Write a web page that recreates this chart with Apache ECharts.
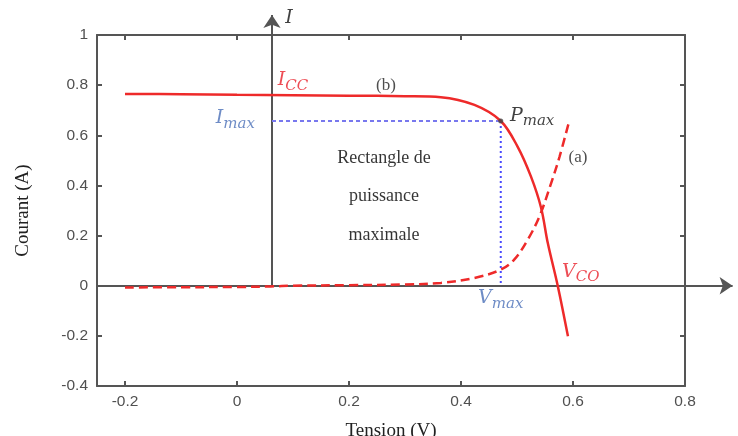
<!DOCTYPE html>
<html><head><meta charset="utf-8">
<script src="https://cdn.jsdelivr.net/npm/echarts@6/dist/echarts.min.js"></script>
<style>html,body{margin:0;padding:0;background:#fff}#c{width:738px;height:436px}</style>
</head><body><div id="c"></div>
<script>
// ---- data ----
const vB = [-0.2, -0.1, 0, 0.1, 0.2, 0.3, 0.364, 0.424, 0.471, 0.501, 0.525, 0.543, 0.555, 0.573, 0.591];
const iB = [0.765, 0.764, 0.762, 0.76, 0.758, 0.756, 0.752, 0.721, 0.657, 0.555, 0.435, 0.311, 0.17, -0.003, -0.202];
const vA = [-0.2, -0.1, 0, 0.06, 0.1, 0.2, 0.3, 0.364, 0.424, 0.471, 0.495, 0.519, 0.54, 0.561, 0.576, 0.593];
const iA = [-0.007, -0.006, -0.005, -0.003, 0.0, 0.002, 0.005, 0.011, 0.031, 0.064, 0.104, 0.183, 0.276, 0.409, 0.515, 0.655];
const rectV = [0.0625, 0.471, 0.471];
const rectI = [0.657, 0.657, 0];
const pmaxV = 0.471, pmaxI = 0.657;
const iAxisV = [0.0625, 0.0625], iAxisI = [0, 1.08];
const vAxisV = [-0.25, 0.885], vAxisI = [0, 0];
const xTicks = [-0.2, 0, 0.2, 0.4, 0.6, 0.8];
const xName = 'Tension (V)', yName = 'Courant (A)';

const pairs = (xs, ys) => xs.map((x, k) => [x, ys[k]]);

const serif = 'Liberation Serif';
const math = 'DejaVu Serif';
const sub = (color, size, subSize) => ({
  i: {fontFamily: math, fontStyle: 'italic', fontSize: size, color: color, lineHeight: 26, verticalAlign: 'middle'},
  s: {fontFamily: math, fontStyle: 'italic', fontSize: subSize, color: color, lineHeight: 14, verticalAlign: 'bottom'}
});
const annotations = [
  {value: [0.093, 1.068], text: '{i|I}', rich: sub('#111', 19, 14)},
  {value: [0.1, 0.82], text: '{i|I}{s|CC}', rich: sub('#e8202a', 19, 15)},
  {value: [0.266, 0.797], text: '(b)', color: '#222', size: 17},
  {value: [-0.003, 0.668], text: '{i|I}{s|max}', rich: sub('#4a6fb8', 19, 15)},
  {value: [0.527, 0.677], text: '{i|P}{s|max}', rich: sub('#111', 19, 15)},
  {value: [0.609, 0.51], text: '(a)', color: '#222', size: 17},
  {value: [0.2625, 0.51], text: 'Rectangle de', color: '#000', size: 18},
  {value: [0.2625, 0.355], text: 'puissance', color: '#000', size: 18},
  {value: [0.2625, 0.2], text: 'maximale', color: '#000', size: 18},
  {value: [0.614, 0.056], text: '{i|V}{s|CO}', rich: sub('#e8202a', 19, 15)},
  {value: [0.471, -0.05], text: '{i|V}{s|max}', rich: sub('#4a6fb8', 19, 15)},
  {value: [0.905, -0.002], text: '{i|V}', rich: sub('#111', 19, 14)}
];

const axisColor = '#555';
const tickLabel = {color: '#505050', fontFamily: 'Liberation Sans', fontSize: 15.5};

const chart = echarts.init(document.getElementById('c'));
chart.setOption({
  animation: false,
  backgroundColor: '#fff',
  grid: {left: 97, right: 53, top: 35, bottom: 50, outerBoundsMode: 'none', containLabel: false},
  xAxis: [{
    type: 'value', min: -0.25, max: 0.8,
    axisLine: {onZero: false, lineStyle: {color: axisColor, width: 2}},
    axisTick: {inside: true, length: 5, customValues: xTicks, lineStyle: {color: axisColor, width: 2}},
    axisLabel: Object.assign({customValues: xTicks, margin: 8}, tickLabel),
    splitLine: {show: false},
    name: xName, nameLocation: 'middle', nameGap: 36,
    nameTextStyle: {fontFamily: serif, fontSize: 19, color: '#222'}
  }, {
    type: 'value', min: -0.25, max: 0.8, position: 'top',
    axisLine: {onZero: false, lineStyle: {color: axisColor, width: 2}},
    axisTick: {inside: true, length: 5, customValues: xTicks, lineStyle: {color: axisColor, width: 2}},
    axisLabel: {show: false}, splitLine: {show: false}
  }],
  yAxis: [{
    type: 'value', min: -0.4, max: 1, interval: 0.2,
    axisLine: {show: true, onZero: false, lineStyle: {color: axisColor, width: 2}},
    axisTick: {show: true, inside: true, length: 5, lineStyle: {color: axisColor, width: 2}},
    axisLabel: Object.assign({margin: 9}, tickLabel),
    splitLine: {show: false},
    name: yName, nameLocation: 'middle', nameGap: 64,
    nameTextStyle: {fontFamily: serif, fontSize: 19, color: '#222'}
  }, {
    type: 'value', min: -0.4, max: 1, interval: 0.2, position: 'right',
    axisLine: {show: true, onZero: false, lineStyle: {color: axisColor, width: 2}},
    axisTick: {show: true, inside: true, length: 5, lineStyle: {color: axisColor, width: 2}},
    axisLabel: {show: false}, splitLine: {show: false}
  }],
  series: [
    {type: 'lines', coordinateSystem: 'cartesian2d', clip: false, z: 1,
     symbol: ['none', 'arrow'], symbolSize: 13,
     lineStyle: {color: axisColor, width: 2, opacity: 1},
     data: [{coords: pairs(iAxisV, iAxisI)}, {coords: pairs(vAxisV, vAxisI)}]},
    {type: 'line', data: pairs(rectV.slice(0, 2), rectI.slice(0, 2)), symbol: 'none', z: 2,
     lineStyle: {color: '#7878ee', width: 2, type: [4, 3]}},
    {type: 'line', data: pairs(rectV.slice(1), rectI.slice(1)), symbol: 'none', z: 2,
     lineStyle: {color: '#4a4aff', width: 2, type: [2, 3]}},
    {type: 'line', name: '(a)', data: pairs(vA, iA), symbol: 'none', smooth: 0.35, z: 3,
     lineStyle: {color: '#ee2a2a', width: 2.5, type: [9, 5]}},
    {type: 'line', name: '(b)', data: pairs(vB, iB), symbol: 'none', smooth: 0.35, z: 4,
     lineStyle: {color: '#ee2a2a', width: 2.5}},
    {type: 'scatter', data: [[pmaxV, pmaxI]], symbolSize: 5, z: 5, itemStyle: {color: '#444'}},
    {type: 'scatter', clip: false, z: 6, symbolSize: 1, itemStyle: {color: 'rgba(0,0,0,0)'},
     data: annotations.map(a => ({
       value: a.value,
       label: {show: true, position: 'inside', align: 'center', verticalAlign: 'middle',
               formatter: a.text, rich: a.rich || {},
               fontFamily: serif, fontSize: a.size || 18, color: a.color || '#111'}
     }))}
  ]
});
</script></body></html>
